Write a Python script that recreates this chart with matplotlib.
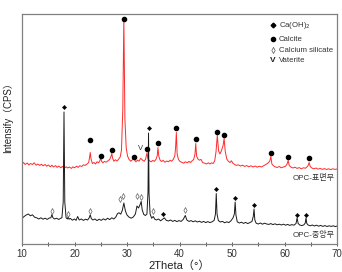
import matplotlib
matplotlib.use("Agg")
import matplotlib.pyplot as plt
import numpy as np

plt.rcParams['font.family'] = ['Liberation Sans', 'Noto Sans CJK KR', 'DejaVu Sans']

# ---- OPC surface (red) trace: 2theta, intensity ----
red_x = [10.0, 10.3, 10.6, 11.0, 11.3, 11.6, 12.0, 12.3, 12.7, 13.0, 13.4, 13.7, 14.0, 14.4, 14.7,
         15.0, 15.4, 15.7, 16.0, 16.4, 16.7, 17.0, 17.4, 17.7, 18.0, 18.4, 18.7, 19.0, 19.4, 19.7,
         20.0, 20.4, 20.7, 21.0, 21.4, 21.7, 22.0, 22.4, 22.7, 22.85, 23.0, 23.15, 23.4, 23.7, 24.0,
         24.3, 24.6, 24.85, 25.0, 25.15, 25.4, 25.7, 26.0, 26.4, 26.7, 26.95, 27.1, 27.25, 27.5, 27.8,
         28.1, 28.4, 28.7, 28.95, 29.2, 29.4, 29.6, 29.85, 30.1, 30.4, 30.7, 31.0, 31.15, 31.3, 31.45,
         31.7, 32.0, 32.3, 32.6, 32.8, 33.0, 33.3, 33.55, 33.8, 34.0, 34.3, 34.6, 34.9, 35.2, 35.5,
         35.75, 35.9, 36.05, 36.3, 36.6, 36.9, 37.2, 37.6, 37.9, 38.2, 38.5, 38.8, 39.1, 39.25, 39.4,
         39.55, 39.8, 40.1, 40.4, 40.8, 41.1, 41.5, 41.8, 42.1, 42.4, 42.7, 42.95, 43.1, 43.25, 43.5,
         43.8, 44.1, 44.4, 44.8, 45.1, 45.5, 45.8, 46.1, 46.4, 46.7, 46.95, 47.2, 47.45, 47.7, 48.0,
         48.3, 48.5, 48.7, 49.0, 49.3, 49.6, 49.9, 50.2, 50.5, 50.8, 51.2, 51.6, 52.0, 52.4, 52.8,
         53.2, 53.6, 54.0, 54.4, 54.8, 55.2, 55.6, 56.0, 56.3, 56.6, 56.9, 57.2, 57.4, 57.6, 57.9,
         58.2, 58.6, 59.0, 59.4, 59.8, 60.2, 60.5, 60.7, 60.9, 61.2, 61.6, 62.0, 62.4, 62.8, 63.2,
         63.6, 64.0, 64.3, 64.5, 64.7, 64.9, 65.2, 65.6, 66.0, 66.4, 66.8, 67.2, 67.6, 68.0, 68.4,
         68.8, 69.2, 69.6, 70.0]
red_y = [800, 815, 795, 810, 790, 805, 795, 812, 788, 800, 785, 798, 782, 795, 778,
         790, 772, 788, 770, 784, 766, 780, 762, 776, 758, 772, 760, 770, 756, 772,
         762, 778, 766, 782, 776, 792, 786, 800, 815, 860, 915, 850, 805, 815, 800,
         822, 812, 835, 865, 828, 812, 826, 818, 834, 845, 875, 905, 860, 828, 842,
         830, 848, 870, 940, 1350, 2250, 1250, 960, 880, 845, 828, 840, 850, 860, 840,
         822, 838, 828, 856, 848, 836, 828, 850, 910, 850, 832, 822, 836, 826, 845,
         880, 965, 880, 838, 825, 836, 818, 830, 822, 838, 828, 845, 880, 960, 1115,
         900, 845, 825, 818, 808, 822, 812, 826, 815, 832, 845, 900, 1005, 880, 850,
         838, 846, 815, 808, 800, 812, 800, 812, 805, 830, 920, 1085, 930, 900, 935,
         985, 1055, 930, 850, 828, 815, 832, 805, 795, 786, 792, 780, 788, 776, 784,
         772, 782, 770, 780, 768, 778, 770, 782, 790, 800, 812, 830, 875, 800, 782,
         772, 765, 775, 762, 770, 778, 800, 835, 785, 770, 760, 768, 756, 764, 752,
         762, 758, 772, 785, 815, 775, 760, 752, 760, 748, 756, 746, 754, 745, 752,
         744, 752, 746, 750]

# ---- OPC center (black) trace ----
blk_x = [10.0, 10.4, 10.8, 11.2, 11.6, 12.0, 12.4, 12.8, 13.2, 13.6, 14.0, 14.4, 14.8, 15.2, 15.5,
         15.7, 15.9, 16.2, 16.6, 17.0, 17.3, 17.6, 17.85, 18.0, 18.15, 18.4, 18.65, 18.8, 18.95, 19.2,
         19.6, 20.0, 20.3, 20.6, 20.9, 21.3, 21.7, 22.1, 22.5, 22.8, 23.0, 23.2, 23.5, 23.9, 24.3,
         24.7, 25.1, 25.5, 25.9, 26.3, 26.7, 27.1, 27.5, 27.9, 28.2, 28.5, 28.8, 29.1, 29.4, 29.7,
         30.0, 30.4, 30.8, 31.2, 31.6, 31.9, 32.2, 32.5, 32.7, 32.9, 33.2, 33.5, 33.8, 34.0, 34.1,
         34.2, 34.4, 34.7, 35.0, 35.3, 35.6, 36.0, 36.4, 36.8, 37.1, 37.5, 37.9, 38.3, 38.7, 39.1,
         39.5, 39.9, 40.3, 40.7, 41.1, 41.4, 41.8, 42.2, 42.6, 43.0, 43.4, 43.8, 44.2, 44.6, 45.0,
         45.4, 45.8, 46.2, 46.6, 46.85, 47.0, 47.15, 47.4, 47.8, 48.2, 48.6, 49.0, 49.4, 49.8, 50.2,
         50.45, 50.6, 50.75, 51.0, 51.4, 51.8, 52.2, 52.6, 53.0, 53.4, 53.8, 54.05, 54.2, 54.35, 54.6,
         55.0, 55.4, 55.8, 56.2, 56.6, 57.0, 57.4, 57.8, 58.2, 58.6, 59.0, 59.4, 59.8, 60.2, 60.6,
         61.0, 61.4, 61.8, 62.2, 62.4, 62.6, 62.9, 63.3, 63.7, 63.95, 64.1, 64.25, 64.5, 64.9, 65.3,
         65.7, 66.1, 66.5, 66.9, 67.3, 67.7, 68.1, 68.5, 68.9, 69.3, 69.7, 70.0]
blk_y = [255, 275, 290, 300, 282, 292, 268, 262, 250, 262, 248, 258, 246, 260, 262,
         295, 262, 250, 258, 245, 256, 262, 420, 1320, 420, 262, 250, 272, 248, 256,
         238, 250, 236, 275, 240, 250, 236, 248, 240, 262, 292, 255, 240, 250, 234,
         248, 236, 252, 240, 258, 244, 262, 250, 272, 305, 312, 298, 335, 410, 330,
         290, 268, 258, 270, 300, 380, 360, 395, 425, 340, 295, 285, 300, 520, 1110,
         500, 300, 258, 275, 248, 240, 250, 232, 248, 262, 236, 230, 240, 226, 236,
         224, 234, 226, 245, 285, 240, 226, 234, 222, 232, 220, 228, 216, 226, 214,
         224, 214, 222, 236, 300, 505, 300, 234, 220, 226, 212, 222, 214, 232, 262,
         300, 420, 290, 222, 210, 218, 206, 216, 204, 214, 225, 275, 350, 240, 208,
         200, 210, 198, 208, 200, 196, 204, 194, 202, 192, 198, 190, 198, 188, 196,
         186, 194, 188, 205, 262, 205, 190, 184, 192, 210, 262, 205, 190, 182, 190,
         180, 188, 178, 186, 176, 184, 175, 182, 176, 182, 174, 180]

# ---- peak markers (2theta, marker height) ----
caoh2_x = [18.0, 34.1, 36.9, 47.0, 50.6, 54.2, 62.4, 64.1]
caoh2_y = [1370, 1160, 305, 550, 465, 395, 295, 295]
calcite_x = [23.0, 25.0, 27.1, 29.4, 31.3, 33.8, 35.9, 39.4, 43.1, 47.2, 48.5, 57.4, 60.7, 64.7]
calcite_y = [1040, 880, 940, 2255, 870, 950, 1010, 1160, 1050, 1120, 1090, 910, 870, 860]
silicate_x = [15.7, 18.8, 23.0, 28.6, 29.2, 31.9, 32.6, 35.0, 41.1]
silicate_y = [330, 300, 330, 450, 480, 480, 470, 330, 340]
vaterite_x = [32.6]
vaterite_y = [950]

legend_labels = ["Ca(OH)$_2$", "Calcite", "Calcium silicate", "Vaterite"]
series_labels = ["OPC-표면부", "OPC-중앙부"]
x_ticks = [10, 20, 30, 40, 50, 60, 70]

# slim lozenge marker for calcium silicate
lozenge = [(0, 1), (0.55, 0), (0, -1), (-0.55, 0), (0, 1)]

fig = plt.figure(figsize=(3.42, 2.72), dpi=100)
ax = fig.add_axes([22/342, 28/272, 315/342, 230/272])

ax.plot(red_x, red_y, color='#ff2a2a', lw=0.7)
ax.plot(blk_x, blk_y, color='#1a1a1a', lw=0.7)

ax.plot(caoh2_x, caoh2_y, ls='none', marker='D', ms=2.2, mfc='black', mec='black', mew=0.3)
ax.plot(calcite_x, calcite_y, ls='none', marker='o', ms=3.0, mfc='black', mec='black')
ax.plot(silicate_x, silicate_y, ls='none', marker=lozenge, ms=4.2, mfc='white', mec='#666666', mew=0.5)
for vx, vy in zip(vaterite_x, vaterite_y):
    ax.text(vx, vy, 'V', fontsize=5.5, ha='center', va='center', color='#333333')

ax.set_xlim(10, 70)
ax.set_ylim(0, 2300)
ax.set_xticks(x_ticks)
ax.set_xticks([15, 25, 35, 45, 55, 65], minor=True)
ax.set_yticks([])
ax.tick_params(axis='x', which='both', direction='inout', length=3, width=0.7,
               colors='#555555', labelsize=7, labelcolor='#333333', pad=2)
for s in ax.spines.values():
    s.set_color('#808080')
    s.set_linewidth(0.9)

ax.set_xlabel('2Theta（°）', fontsize=8, color='#222222', labelpad=1)
ax.set_ylabel('Intensify（CPS）', fontsize=7, color='#222222')
ax.yaxis.set_label_coords(-0.027, 0.56)

# legend (manual)
leg_rows = [0.952, 0.891, 0.843, 0.796]
trans = ax.transAxes
ax.plot([0.797], [leg_rows[0]], transform=trans, marker='D', ms=2.4, color='black', ls='none')
ax.plot([0.797], [leg_rows[1]], transform=trans, marker='o', ms=3.0, color='black', ls='none')
ax.plot([0.797], [leg_rows[2]], transform=trans, marker=lozenge, ms=4.4, mfc='white', mec='#555555',
        mew=0.5, ls='none')
ax.text(0.797, leg_rows[3], 'V', transform=trans, fontsize=6, fontweight='bold',
        ha='center', va='center', color='#222222')
for lab, yy in zip(legend_labels, leg_rows):
    ax.text(0.816, yy, lab, transform=trans, fontsize=5.6, ha='left', va='center', color='#333333')

ax.text(69.6, 660, series_labels[0], fontsize=5.8, ha='right', va='center', color='#333333')
ax.text(69.6, 90, series_labels[1], fontsize=5.8, ha='right', va='center', color='#333333')

fig.savefig('out.png', dpi=100)
